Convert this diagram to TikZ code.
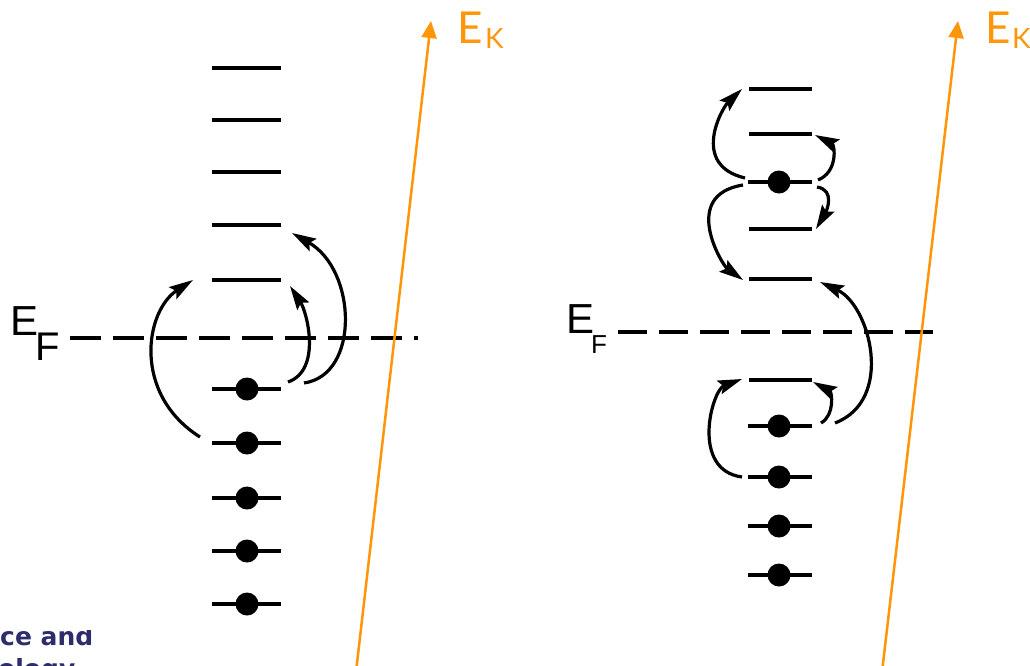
\documentclass[tikz,border=0pt]{standalone}
\usepackage{fontspec}
\setmainfont{Liberation Sans}
\newfontfamily\ekfont{Lato}
\newfontfamily\logofont{DejaVu Sans}
\usetikzlibrary{arrows.meta}
\definecolor{ekorange}{RGB}{255,150,10}
\definecolor{logonavy}{RGB}{45,45,110}
\begin{document}
\begin{tikzpicture}[x=1pt,y=-1pt,
  lvl/.style={line width=3.3pt},
  dot/.style={circle,fill=black,inner sep=0pt,minimum size=23pt},
  fermi/.style={line width=3.2pt,dash pattern=on 31pt off 12pt},
  hop/.style={line width=3.2pt,-{Stealth[length=24pt,width=14pt,inset=4pt]}},
  ekaxis/.style={ekorange,line width=2.5pt,-{Triangle[length=17pt,width=15pt]}},
  lab/.style={inner sep=0pt,anchor=base west},
  eflab/.style={lab,font=\fontsize{42}{42}\selectfont},
  ekbig/.style={lab,text=ekorange,font=\ekfont\fontsize{44}{44}\selectfont},
  eksmall/.style={lab,text=ekorange,font=\ekfont\fontsize{28}{28}\selectfont},
  logo/.style={lab,text=logonavy,font=\logofont\bfseries\fontsize{25}{25}\selectfont},
]
\useasboundingbox (0,0) rectangle (1030,665);
\clip (0,0) rectangle (1030,665);
\fill[white] (0,0) rectangle (1030,665);

% ---- cropped logo text (bottom left)
\node[logo] (logo1) at (0,645) {ce and};
\node[logo] (logo2) at (-2,677) {ology};
\fill[white] (0,600) rectangle (150,630);

% ================= LEFT DIAGRAM =================
\foreach \y [count=\i] in {68,120,172,225,280}
  \draw[lvl] (212,\y) coordinate (La\i) -- (281,\y) coordinate (Lb\i);
\foreach \y [count=\i] in {389,443,498,551,604}{
  \draw[lvl] (212,\y) coordinate (Lfa\i) -- (281,\y) coordinate (Lfb\i);
  \node[dot] (Ld\i) at (247,\y) {};
}
% Fermi level
\node[eflab] (EFl) at (10,335) {E};
\node[eflab,font=\fontsize{40}{40}\selectfont] (EFls) at (35,360) {F};
\coordinate (Fl1) at (70,338);
\coordinate (Fl2) at (418,338);
\draw[fermi] (Fl1) -- (Fl2);
% hops
\coordinate (h1s) at (200,437); \coordinate (h1e) at (193,280);
\draw[hop] (h1s) .. controls (132,394) and (145,311) .. (h1e);
\coordinate (h2s) at (288,382); \coordinate (h2e) at (290,286);
\draw[hop] (h2s) .. controls (322,370) and (307,312) .. (h2e);
\coordinate (h3s) at (304,383); \coordinate (h3e) at (292,233);
\draw[hop] (h3s) .. controls (360,375) and (357,270) .. (h3e);
% E_K axis
\coordinate (EKl0) at (356,672);
\coordinate (EKl1) at (431,21);
\draw[ekaxis] (EKl0) -- (EKl1);
\node[ekbig] (EKlE) at (457,43) {E};
\node[eksmall] (EKlK) at (485,48) {K};

% ================= RIGHT DIAGRAM =================
\foreach \y [count=\i] in {89,134,229,279,380}
  \draw[lvl] (749,\y) coordinate (Ra\i) -- (812,\y) coordinate (Rb\i);
\foreach \y [count=\i] in {182,426,477,526,575}{
  \draw[lvl] (748,\y) coordinate (Rfa\i) -- (812,\y) coordinate (Rfb\i);
  \node[dot] (Rd\i) at (779,\y) {};
}
% Fermi level
\node[eflab] (EFr) at (566,333) {E};
\node[lab,font=\fontsize{26}{26}\selectfont] (EFrs) at (591,353) {F};
\coordinate (Fr1) at (618,332);
\coordinate (Fr2) at (933,332);
\draw[fermi,dash pattern=on 29pt off 12pt] (Fr1) -- (Fr2);
% hops
\coordinate (ra) at (745,178); \coordinate (rae) at (742,89);
\draw[hop] (ra) .. controls (690,165) and (722,108) .. (rae);
\coordinate (rb) at (818,180); \coordinate (rbe) at (815,135);
\draw[hop] (rb) .. controls (838,172) and (835,145) .. (rbe);
\coordinate (rc) at (817,187); \coordinate (rce) at (816,229);
\draw[hop] (rc) .. controls (836,190) and (826,212) .. (rce);
\coordinate (rd) at (743,185); \coordinate (rde) at (743,280);
\draw[hop] (rd) .. controls (680,195) and (722,265) .. (rde);
\coordinate (re) at (835,423); \coordinate (ree) at (820,282);
\draw[hop] (re) .. controls (895,400) and (870,305) .. (ree);
\coordinate (rf) at (742,477); \coordinate (rfe) at (742,379);
\draw[hop] (rf) .. controls (690,470) and (712,390) .. (rfe);
\coordinate (rg) at (821,423); \coordinate (rge) at (813,382);
\draw[hop] (rg) .. controls (835,415) and (832,392) .. (rge);
% E_K axis
\coordinate (EKr0) at (882,672);
\coordinate (EKr1) at (958,21);
\draw[ekaxis] (EKr0) -- (EKr1);
\node[ekbig] (EKrE) at (985,43) {E};
\node[eksmall] (EKrK) at (1012,48) {K};
\end{tikzpicture}
\end{document}
